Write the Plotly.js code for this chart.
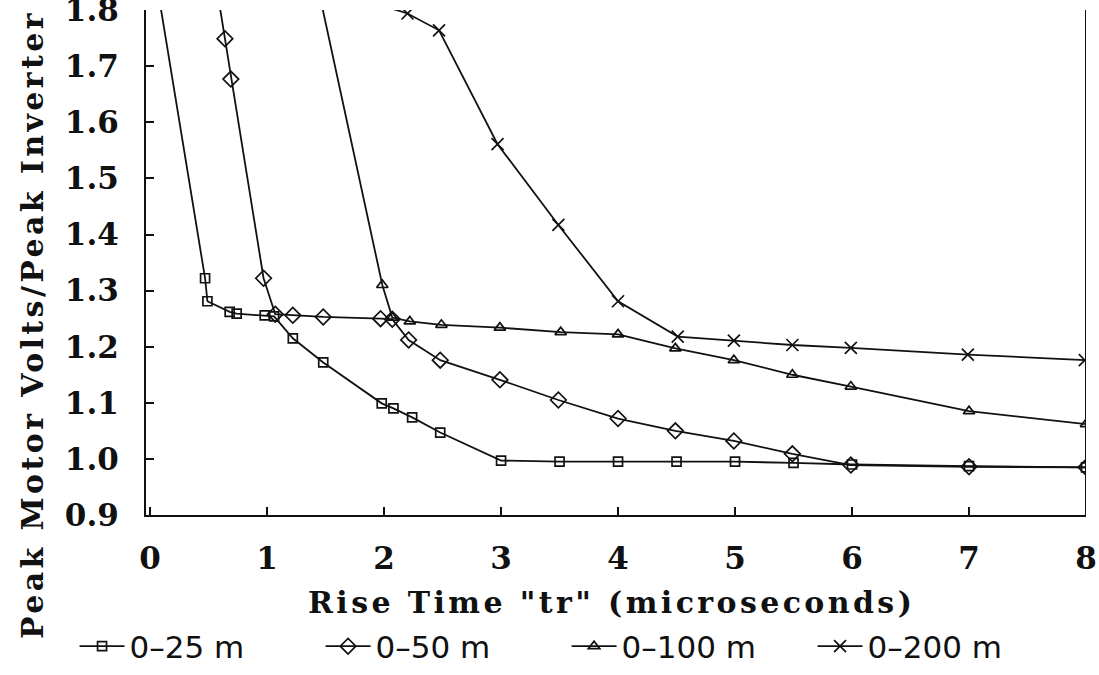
<!DOCTYPE html>
<html>
<head>
<meta charset="utf-8">
<script src="https://cdn.plot.ly/plotly-3.0.1.min.js"></script>
<style>
html,body{margin:0;padding:0;background:#fff;}
#chart{width:1099px;height:675px;}
text.annotation-text{letter-spacing:3.4px;}
</style>
</head>
<body>
<div id="chart"></div>
<script>
// Rise time (microseconds) and peak motor / peak inverter voltage ratio
const x25 = [0.0, 0.47, 0.49, 0.68, 0.74, 0.98, 1.06, 1.22, 1.48, 1.98, 2.08, 2.24, 2.48, 3.0, 3.5, 4.0, 4.5, 5.0, 5.5, 6.0, 7.0, 8.0];
const y25 = [1.92, 1.322, 1.281, 1.262, 1.259, 1.256, 1.254, 1.215, 1.172, 1.099, 1.09, 1.074, 1.047, 0.997, 0.995, 0.995, 0.995, 0.995, 0.993, 0.99, 0.987, 0.985];

const x50 = [0.5, 0.64, 0.69, 0.97, 1.07, 1.22, 1.48, 1.97, 2.07, 2.21, 2.48, 2.99, 3.49, 4.0, 4.49, 4.99, 5.49, 5.99, 7.0, 8.0];
const y50 = [1.93, 1.749, 1.677, 1.322, 1.258, 1.256, 1.253, 1.25, 1.249, 1.212, 1.176, 1.141, 1.105, 1.072, 1.05, 1.032, 1.009, 0.989, 0.986, 0.985];

const x100 = [1.0, 1.985, 2.07, 2.22, 2.49, 2.99, 3.51, 4.0, 4.49, 4.99, 5.49, 5.99, 7.0, 8.0];
const y100 = [2.26, 1.31, 1.252, 1.245, 1.239, 1.234, 1.226, 1.222, 1.197, 1.176, 1.15, 1.129, 1.085, 1.062];

const x200 = [1.5, 2.2, 2.47, 2.97, 3.49, 4.0, 4.51, 4.99, 5.49, 5.99, 6.99, 7.99];
const y200 = [1.84, 1.794, 1.764, 1.561, 1.417, 1.281, 1.218, 1.211, 1.203, 1.198, 1.186, 1.176];

const seriesNames = ["0\u201325 m", "0\u201350 m", "0\u2013100 m", "0\u2013200 m"];
const xTickVals = [0, 1, 2, 3, 4, 5, 6, 7, 8];
const yTickVals = [0.9, 1.0, 1.1, 1.2, 1.3, 1.4, 1.5, 1.6, 1.7, 1.8];

const ink = "#111";
function mk(x, y, name, symbol, size) {
  return {
    x: x, y: y, name: name, type: "scatter", mode: "lines+markers",
    cliponaxis: true,
    line: {color: ink, width: 1.8},
    marker: {symbol: symbol, size: size, color: ink, line: {color: ink, width: 1.7}}
  };
}
const data = [
  mk(x25, y25, seriesNames[0], "square-open", 9),
  mk(x50, y50, seriesNames[1], "diamond-open", 12),
  mk(x100, y100, seriesNames[2], "triangle-up-open", 10),
  mk(x200, y200, seriesNames[3], "x-thin-open", 12)
];

const serif = "DejaVu Serif";
const layout = {
  width: 1099, height: 675,
  margin: {l: 146, r: 13, t: 10, b: 160, autoexpand: false},
  paper_bgcolor: "#fff", plot_bgcolor: "#fff",
  showlegend: true,
  legend: {
    orientation: "h", x: -0.076, y: -0.207, xanchor: "left", yanchor: "top",
    font: {family: "DejaVu Sans", size: 31, color: ink},
    itemwidth: 45, entrywidth: 186, entrywidthmode: "pixels",
    traceorder: "normal", bgcolor: "rgba(0,0,0,0)"
  },
  xaxis: {
    range: [-0.035, 8], tickvals: xTickVals, ticks: "inside", ticklen: 8, tickwidth: 2,
    tickcolor: ink, showline: true, linecolor: ink, linewidth: 2, showgrid: false, zeroline: false,
    tickfont: {family: serif, size: 31, color: ink, weight: "bold"},
    ticklabelstandoff: 15, ticklabeloverflow: "allow"
  },
  yaxis: {
    range: [0.9, 1.8002], tickvals: yTickVals, tickformat: ".1f", ticks: "inside", ticklen: 8, tickwidth: 2,
    tickcolor: ink, showline: true, linecolor: ink, linewidth: 2, showgrid: false, zeroline: false,
    tickfont: {family: serif, size: 31, color: ink, weight: "bold"},
    ticklabelstandoff: 19, ticklabeloverflow: "allow"
  },
  shapes: [
    {type: "line", xref: "x", yref: "paper", x0: 8, x1: 8, y0: 0, y1: 1, line: {color: ink, width: 2}}
  ],
  annotations: [
    {text: "Rise Time \"tr\" (microseconds)", xref: "paper", yref: "paper", x: 0.495, y: -0.173,
     xanchor: "center", yanchor: "middle", showarrow: false,
     font: {family: serif, size: 30, color: ink, weight: "bold"}},
    {text: "Peak Motor Volts/Peak Inverter", xref: "paper", yref: "paper", x: -0.121, y: -0.25,
     xanchor: "center", yanchor: "bottom", textangle: -90, showarrow: false,
     font: {family: serif, size: 30, color: ink, weight: "bold"}}
  ]
};
Plotly.newPlot("chart", data, layout, {displayModeBar: false, staticPlot: true});
</script>
</body>
</html>
